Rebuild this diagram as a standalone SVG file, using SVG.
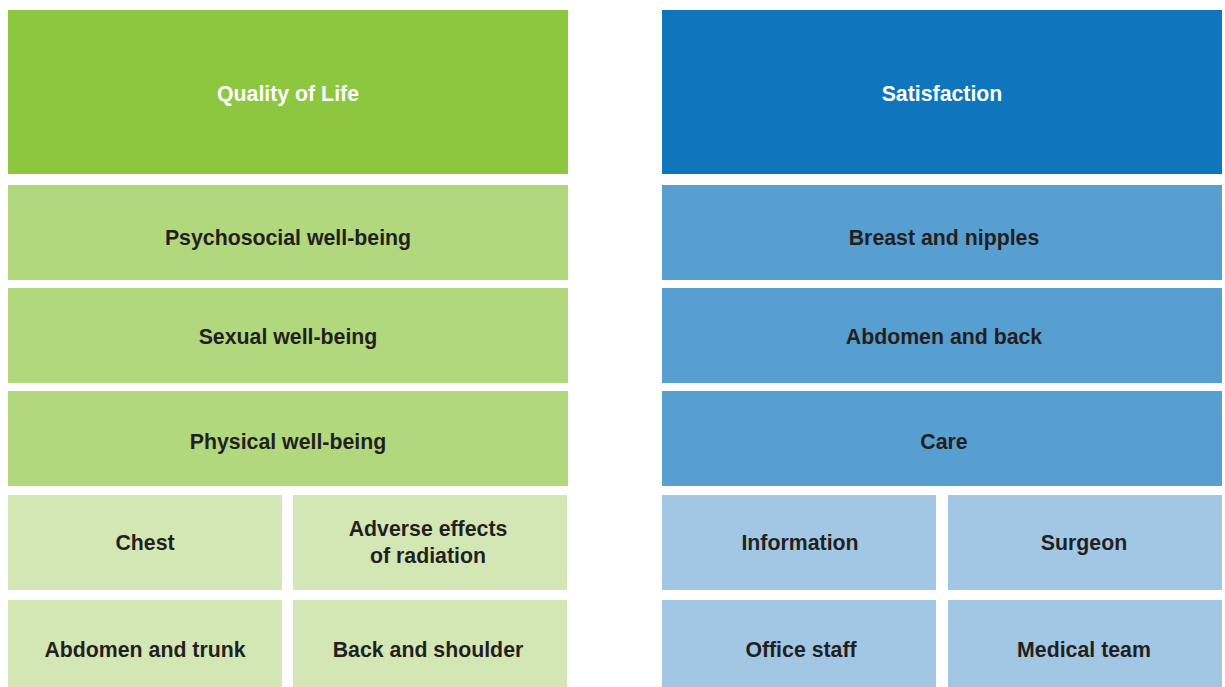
<svg xmlns="http://www.w3.org/2000/svg" width="1225" height="687" viewBox="0 0 1225 687">
<style>
text{font-family:"Liberation Sans",Arial,sans-serif;font-weight:bold;font-size:21.3px;text-anchor:middle;fill:#231F20}
.w{fill:#FFFFFF}
.g1{fill:#8DC63F}.g2{fill:#B1D87D}.g3{fill:#D3E7B5}
.b1{fill:#0F75BC}.b2{fill:#589FD1}.b3{fill:#A1C7E4}
</style>
<rect width="1225" height="687" fill="#FFFFFF"/>
<g id="qol"><rect class="g1" x="8" y="10" width="560" height="164"/><text class="w" x="288" y="101">Quality of Life</text></g>
<g id="psychosocial"><rect class="g2" x="8" y="185" width="560" height="95"/><text x="288" y="245">Psychosocial well-being</text></g>
<g id="sexual"><rect class="g2" x="8" y="288" width="560" height="95"/><text x="288" y="344">Sexual well-being</text></g>
<g id="physical"><rect class="g2" x="8" y="391" width="560" height="95"/><text x="288" y="449">Physical well-being</text></g>
<g id="chest"><rect class="g3" x="8" y="495" width="274" height="95"/><text x="145" y="550">Chest</text></g>
<g id="adverse"><rect class="g3" x="293" y="495" width="274" height="95"/><text x="428" y="536">Adverse effects</text><text x="428" y="563">of radiation</text></g>
<g id="abdomen-trunk"><rect class="g3" x="8" y="600" width="274" height="87"/><text x="145" y="657">Abdomen and trunk</text></g>
<g id="back-shoulder"><rect class="g3" x="293" y="600" width="274" height="87"/><text x="428" y="657">Back and shoulder</text></g>
<g id="satisfaction"><rect class="b1" x="662" y="10" width="560" height="164"/><text class="w" x="942" y="101">Satisfaction</text></g>
<g id="breast"><rect class="b2" x="662" y="185" width="560" height="95"/><text x="944" y="245">Breast and nipples</text></g>
<g id="abdomen-back"><rect class="b2" x="662" y="288" width="560" height="95"/><text x="944" y="344">Abdomen and back</text></g>
<g id="care"><rect class="b2" x="662" y="391" width="560" height="95"/><text x="944" y="449">Care</text></g>
<g id="information"><rect class="b3" x="662" y="495" width="274" height="95"/><text x="800" y="550">Information</text></g>
<g id="surgeon"><rect class="b3" x="948" y="495" width="274" height="95"/><text x="1084" y="550">Surgeon</text></g>
<g id="office-staff"><rect class="b3" x="662" y="600" width="274" height="87"/><text x="801" y="657">Office staff</text></g>
<g id="medical-team"><rect class="b3" x="948" y="600" width="274" height="87"/><text x="1084" y="657">Medical team</text></g>
<g id="connectors"/>
</svg>
